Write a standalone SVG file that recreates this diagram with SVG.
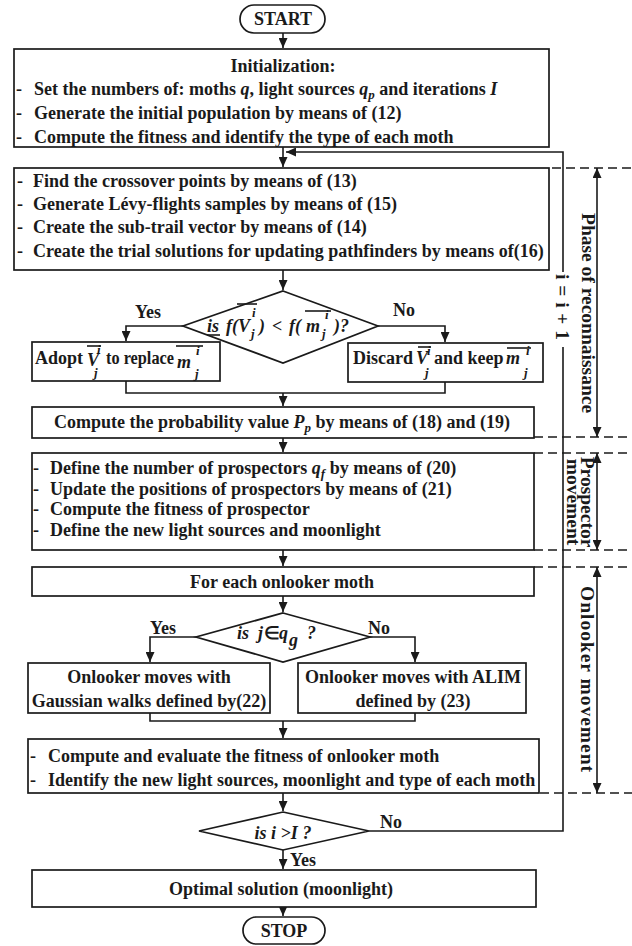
<svg xmlns="http://www.w3.org/2000/svg" width="632" height="946" viewBox="0 0 632 946">
<style>
  .bx{fill:#fff;stroke:#1a1a1a;stroke-width:1.7}
  .ln{fill:none;stroke:#1a1a1a;stroke-width:1.6}
  .ds{fill:none;stroke:#1a1a1a;stroke-width:1.5;stroke-dasharray:9 5}
  text{font-family:"Liberation Serif","Times New Roman",serif;font-weight:bold;font-size:18px;fill:#1a1a1a}
  .c{text-anchor:middle}
  .it{font-style:italic}
  .sm{font-size:13px;font-style:italic}
  .rot{font-size:19.5px}
</style>
<defs>
  <marker id="ah" markerUnits="userSpaceOnUse" markerWidth="10" markerHeight="9" refX="10" refY="4.5" orient="auto-start-reverse">
    <path d="M0,0 L10,4.5 L0,9 z" fill="#1a1a1a"/>
  </marker>
</defs>
<rect width="632" height="946" fill="#fff"/>

<g id="connectors">
  <path class="ln" d="M283,33 V48" marker-end="url(#ah)"/>
  <path class="ln" d="M283,147 V167" marker-end="url(#ah)"/>
  <path class="ln" d="M369,831 H563 V347"/>
  <path class="ln" d="M563,272 V152 H286" marker-end="url(#ah)"/>
  <path class="ln" d="M283,270 V290" marker-end="url(#ah)"/>
  <path class="ln" d="M183,326 H126 V341" marker-end="url(#ah)"/>
  <path class="ln" d="M378,326 H445 V342" marker-end="url(#ah)"/>
  <path class="ln" d="M126,381 V393 H445 V382"/>
  <path class="ln" d="M283,393 V406" marker-end="url(#ah)"/>
  <path class="ln" d="M283,438 V452" marker-end="url(#ah)"/>
  <path class="ln" d="M283,550 V566" marker-end="url(#ah)"/>
  <path class="ln" d="M283,596 V612" marker-end="url(#ah)"/>
  <path class="ln" d="M196,637 H150 V662" marker-end="url(#ah)"/>
  <path class="ln" d="M370,637 H415 V662" marker-end="url(#ah)"/>
  <path class="ln" d="M150,713 V721 H415 V713"/>
  <path class="ln" d="M283,721 V738" marker-end="url(#ah)"/>
  <path class="ln" d="M283,793 V811" marker-end="url(#ah)"/>
  <path class="ln" d="M283,850 V869" marker-end="url(#ah)"/>
  <path class="ln" d="M283,907 V916" marker-end="url(#ah)"/>
  <!-- phase separators -->
  <path class="ds" d="M552,168 H632"/>
  <path class="ds" d="M534,437 H632"/>
  <path class="ds" d="M534,453 H632"/>
  <path class="ds" d="M534,550 H632"/>
  <path class="ds" d="M534,567 H632"/>
  <path class="ds" d="M540,793 H632"/>
  <path class="ln" d="M597,168 V437" marker-start="url(#ah)" marker-end="url(#ah)"/>
  <path class="ln" d="M597,453 V550" marker-start="url(#ah)" marker-end="url(#ah)"/>
  <path class="ln" d="M597,567 V793" marker-start="url(#ah)" marker-end="url(#ah)"/>
</g>

<g id="start">
  <rect class="bx" x="240" y="5" width="85" height="28" rx="14"/>
  <text class="c" x="283" y="25">START</text>
</g>

<g id="init">
  <rect class="bx" x="14" y="49" width="535" height="98"/>
  <text class="c" x="283" y="72">Initialization:</text>
  <text x="16" y="95">-</text>
  <text x="34" y="95">Set the numbers of: moths <tspan class="it">q</tspan>, light sources <tspan class="it">q</tspan><tspan class="sm" dy="4">p</tspan><tspan dy="-4"> and iterations </tspan><tspan class="it">I</tspan></text>
  <text x="16" y="119">-</text>
  <text x="34" y="119">Generate the initial population by means of (12)</text>
  <text x="16" y="143">-</text>
  <text x="34" y="143">Compute the fitness and identify the type of each moth</text>
</g>

<g id="reconnaissance">
  <rect class="bx" x="14" y="168" width="535" height="102"/>
  <text x="17" y="187">-</text>
  <text x="33" y="187">Find the crossover points by means of (13)</text>
  <text x="17" y="210">-</text>
  <text x="33" y="210">Generate Lévy-flights samples by means of (15)</text>
  <text x="17" y="233">-</text>
  <text x="33" y="233">Create the sub-trail vector by means of (14)</text>
  <text x="17" y="257">-</text>
  <text x="33" y="257">Create the trial solutions for updating pathfinders by means of(16)</text>
</g>

<g id="decision1">
  <polygon class="bx" points="283,291 378,326 283,363 183,326"/>
  <text class="it" x="207" y="332" font-size="17">is</text>
  <line class="ln" x1="207" y1="335" x2="220" y2="335" stroke-width="1.2"/>
  <text class="it" x="226" y="332">f(</text>
  <text class="it" x="238" y="332">V</text>
  <line class="ln" x1="237" y1="304" x2="257" y2="304" stroke-width="1.4"/>
  <text class="sm" x="252" y="317">i</text>
  <text class="sm" x="251" y="338">j</text>
  <text class="it" x="259" y="332">)</text>
  <text x="272" y="332">&lt;</text>
  <text class="it" x="289" y="332">f(</text>
  <text class="it" x="306" y="332">m</text>
  <line class="ln" x1="305" y1="311" x2="331" y2="311" stroke-width="1.4"/>
  <text class="sm" x="325" y="319">i</text>
  <text class="sm" x="322" y="338">j</text>
  <text class="it" x="334" y="332">)?</text>
  <text x="135" y="318">Yes</text>
  <text x="393" y="316">No</text>
</g>

<g id="adopt">
  <rect class="bx" x="32" y="342" width="188" height="39"/>
  <text x="35" y="364">Adopt</text>
  <text class="it" x="87" y="366">V</text>
  <line class="ln" x1="87" y1="346" x2="101" y2="346" stroke-width="1.4"/>
  <text class="sm" x="97" y="354">i</text>
  <text class="sm" x="94" y="377">j</text>
  <text x="106" y="364" textLength="68" lengthAdjust="spacingAndGlyphs">to replace</text>
  <text class="it" x="177" y="368">m</text>
  <line class="ln" x1="176" y1="346" x2="203" y2="346" stroke-width="1.4"/>
  <text class="sm" x="196" y="355">i</text>
  <text class="sm" x="195" y="378">j</text>
</g>

<g id="discard">
  <rect class="bx" x="348" y="343" width="195" height="39"/>
  <text x="353" y="364">Discard</text>
  <text class="it" x="416" y="364">V</text>
  <line class="ln" x1="418" y1="347" x2="431" y2="347" stroke-width="1.4"/>
  <text class="sm" x="427" y="355">i</text>
  <text class="sm" x="425" y="377">j</text>
  <text x="434" y="364">and keep</text>
  <text class="it" x="506" y="364">m</text>
  <line class="ln" x1="507" y1="348" x2="531" y2="348" stroke-width="1.4"/>
  <text class="sm" x="526" y="355">i</text>
  <text class="sm" x="524" y="377">j</text>
</g>

<g id="probability">
  <rect class="bx" x="32" y="407" width="502" height="31"/>
  <text class="c" x="282" y="428">Compute the probability value <tspan class="it">P</tspan><tspan class="sm" dy="4">p</tspan><tspan dy="-4"> by means of (18) and (19)</tspan></text>
</g>

<g id="prospector">
  <rect class="bx" x="32" y="453" width="502" height="97"/>
  <text x="33" y="474">-</text>
  <text x="50" y="474">Define the number of prospectors <tspan class="it">q</tspan><tspan class="sm" dy="4">f</tspan><tspan dy="-4"> by means of (20)</tspan></text>
  <text x="33" y="495">-</text>
  <text x="50" y="495">Update the positions of prospectors by means of (21)</text>
  <text x="33" y="515">-</text>
  <text x="50" y="515">Compute the fitness of prospector</text>
  <text x="33" y="536">-</text>
  <text x="50" y="536">Define the new light sources and moonlight</text>
</g>

<g id="foreach">
  <rect class="bx" x="32" y="567" width="502" height="29"/>
  <text class="c" x="282" y="588">For each onlooker moth</text>
</g>

<g id="decision2">
  <polygon class="bx" points="283,613 370,637 283,662 196,637"/>
  <text class="it" x="237" y="639">is</text>
  <text class="it" x="258" y="639">j</text>
  <text x="264" y="639" font-size="16">∈</text>
  <text class="it" x="279" y="639">q</text>
  <text class="it" x="289" y="646" font-size="15">g</text>
  <text class="it" x="307" y="639">?</text>
  <text x="150" y="634">Yes</text>
  <text x="368" y="634">No</text>
</g>

<g id="gaussian">
  <rect class="bx" x="28" y="663" width="242" height="50"/>
  <text class="c" x="149" y="683">Onlooker moves with</text>
  <text class="c" x="149" y="707">Gaussian walks defined by(22)</text>
</g>

<g id="alim">
  <rect class="bx" x="298" y="663" width="228" height="50"/>
  <text class="c" x="413" y="683">Onlooker moves with ALIM</text>
  <text class="c" x="413" y="707">defined by (23)</text>
</g>

<g id="evaluate">
  <rect class="bx" x="28" y="739" width="511" height="54"/>
  <text x="30" y="762">-</text>
  <text x="48" y="762">Compute and evaluate the fitness of onlooker moth</text>
  <text x="30" y="786">-</text>
  <text x="48" y="786">Identify the new light sources, moonlight and type of each moth</text>
</g>

<g id="decision3">
  <polygon class="bx" points="283,812 369,831 283,850 199,831"/>
  <text class="it c" x="283" y="839" font-size="17">is i &gt;I ?</text>
  <text x="380" y="828">No</text>
  <text x="290" y="866">Yes</text>
</g>

<g id="optimal">
  <rect class="bx" x="32" y="870" width="504" height="37"/>
  <text class="c" x="281" y="895">Optimal solution (moonlight)</text>
</g>

<g id="stop">
  <rect class="bx" x="243" y="917" width="82" height="27" rx="13.5"/>
  <text class="c" x="284" y="937">STOP</text>
</g>

<g id="labels">
  <text class="c rot" transform="translate(556,307) rotate(90)" textLength="66">i = i + 1</text>
  <text class="c rot" transform="translate(582,313) rotate(90)">Phase of reconnaissance</text>
  <text class="c rot" transform="translate(581,502) rotate(90)">Prospector</text>
  <text class="c rot" transform="translate(567,502) rotate(90)">movement</text>
  <text class="c rot" transform="translate(581,679) rotate(90)" textLength="186">Onlooker movement</text>
</g>
</svg>
